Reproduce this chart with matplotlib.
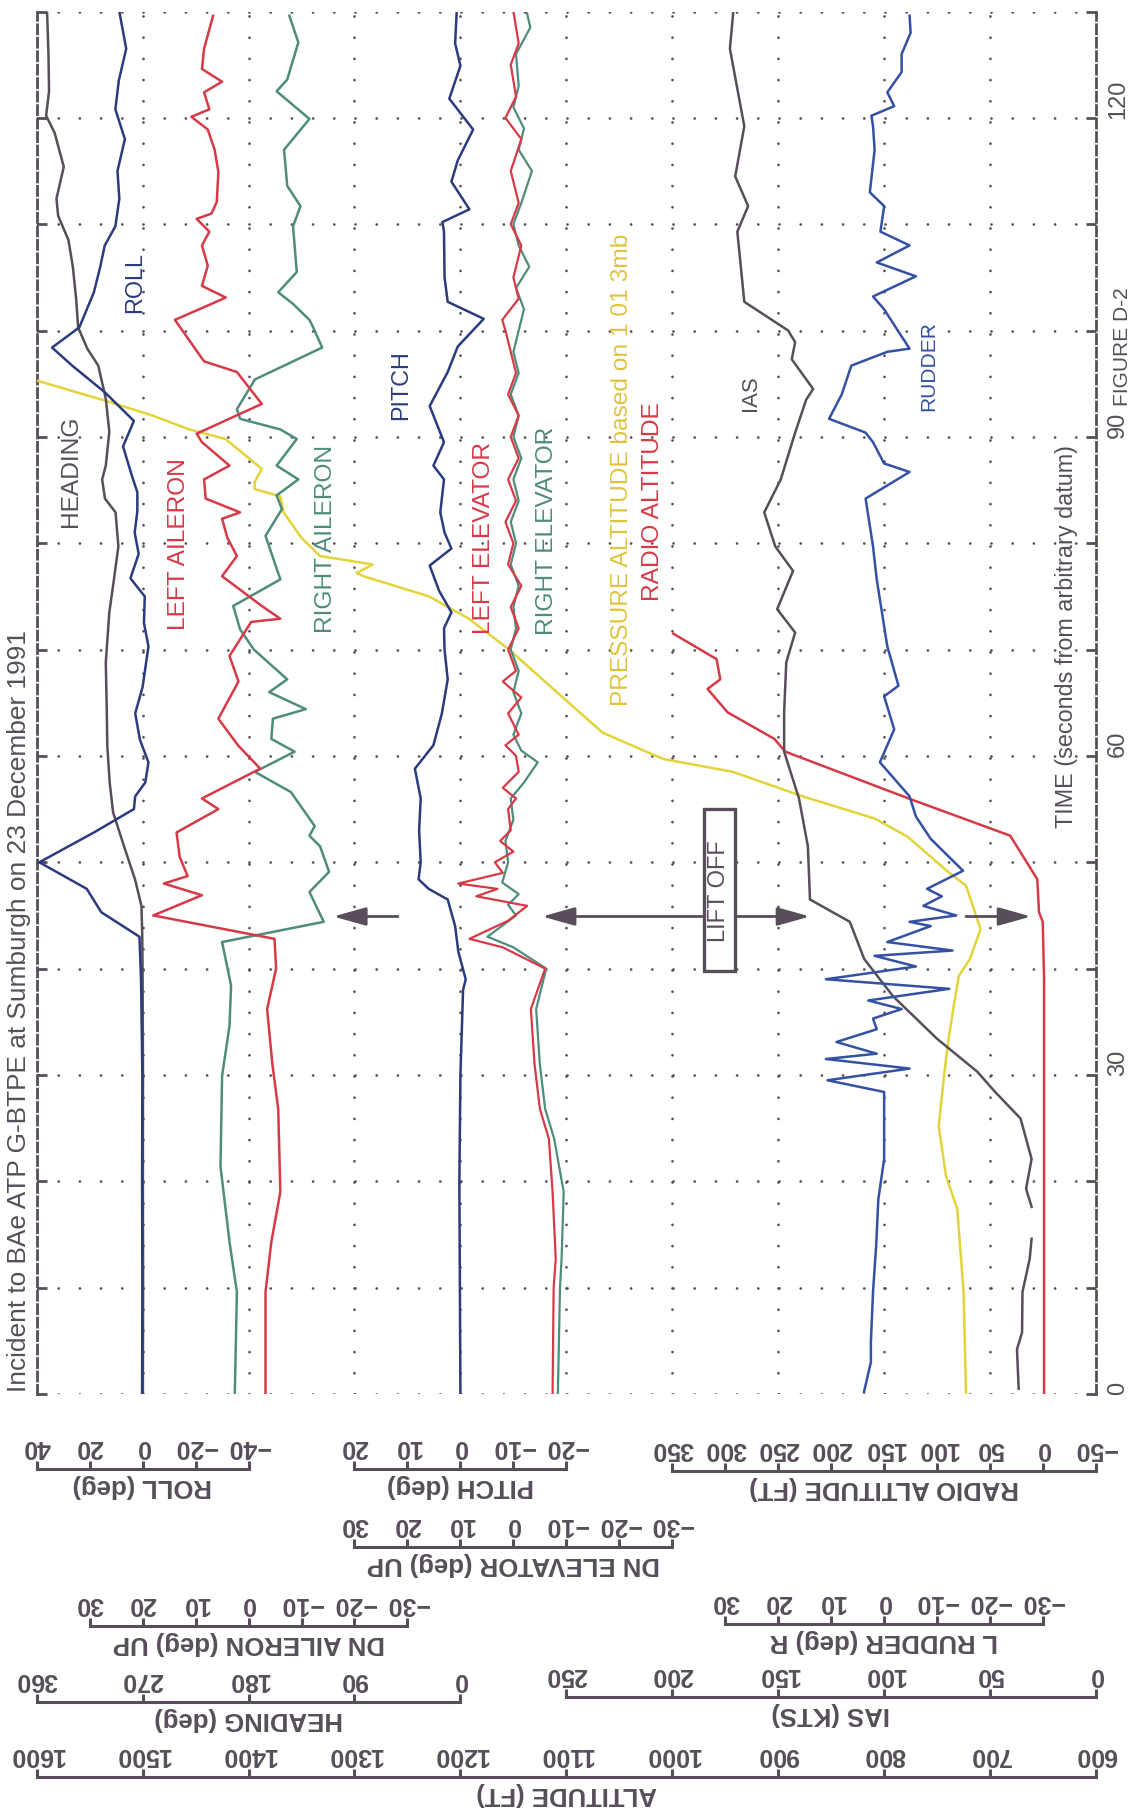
import numpy as np
import matplotlib
matplotlib.use("Agg")
import matplotlib.pyplot as plt
import matplotlib.transforms as mtransforms
from matplotlib import font_manager
from matplotlib.patches import Rectangle

plt.rcParams['lines.scale_dashes'] = False
plt.rcParams['font.family'] = ['Liberation Sans', 'DejaVu Sans']

# narrow face for the in-plot captions if it is there
names = {f.name for f in font_manager.fontManager.ttflist}
if 'Liberation Sans Narrow' in names:
    NARROW, NS = 'Liberation Sans Narrow', 1.0
else:
    NARROW, NS = 'Liberation Sans', 0.84

# ---------------- data (t = seconds from datum) ----------------
t_heading = [0, 10, 20, 30, 39, 43, 45.9, 48.4, 51.5, 54.7, 57.5, 60.9, 64.5, 68.8, 73.5,
             76.5, 79.7, 82.9, 84.2, 86, 87.3, 90.5, 93.6, 96.7, 98.3, 100.3, 103, 106,
             108.5, 110.8, 112.4, 115.4, 118.6, 120.2, 122.5, 126, 130]
heading = [269.8, 269.6, 269.8, 269.7, 270, 270.3, 271, 276.5, 285.8, 295.1, 298, 300,
           300.5, 301.3, 298.3, 294.5, 290.6, 293, 302, 304.4, 301.3, 298.3, 301.3, 307.7,
           317, 324.8, 326.5, 329.3, 333, 341.8, 343.2, 337, 344.8, 352, 349.5, 350, 351.2]

t_roll = [0, 10, 20, 30, 39, 43, 45.3, 47.5, 50, 52.8, 55, 56.2, 57.5, 59.4, 61.5, 64, 66.5,
          70.3, 72.5, 75, 76.7, 79, 81, 83, 84.8, 86.3, 89.1, 91.5, 94.2, 96.7, 98.4, 100.3,
          103.6, 106, 108, 109.8, 112.4, 115, 118, 120.8, 123.5, 126.5, 130]
roll = [0.2, 0.1, 0.2, 0.1, 0.6, 1.2, 15.6, 21.1, 39, 18.4, 3.3, 2.8, -1, -2.2, 1, 2.8, 0,
        -2.2, -0.5, -0.8, 4.6, 1.5, 3, 2, 2, 4, 7.4, 3.3, 14.3, 26.6, 34.2, 23.9, 18.4, 16,
        14.3, 10.3, 8.8, 9.5, 6.7, 10.3, 9, 6.2, 8.8]

t_lail = [0, 9.6, 14.3, 19, 26.8, 31, 36.2, 40, 42.8, 45, 46.9, 48, 48.7, 50.5, 52.8, 55, 56,
          58.8, 61, 63.5, 67, 69.4, 72.6, 72.9, 74.1, 76.9, 78.8, 80.5, 82.3, 82.9, 84.2, 86,
          87.3, 89.5, 90.3, 93.1, 96.1, 97.1, 101, 103.1, 104.2, 106.1, 108, 109.3, 110.5,
          111, 112.1, 114.9, 117, 118.9, 120.1, 120.8, 122.4, 123.4, 124.6, 126.5, 129.6]
left_aileron = [-3.2, -3.2, -4.3, -6, -5.6, -4.5, -3.5, -5.2, -4.9, 18, 8.8, 16, 11.5, 13,
                13.6, 5.7, 8.8, -2.2, 2, 5.7, 1.9, 3.6, -0.5, -6, -2.5, 5, 2.2, 4, 5, 1.6,
                8.1, 8.4, 3.6, 8.8, 9.8, -2.5, 2.2, 8.4, 13.9, 4.3, 8.8, 7.7, 8.8, 7.4, 9.8,
                7, 6, 5.7, 6.4, 7.7, 10.8, 7.4, 8.4, 5, 8.8, 8.4, 6.7]

t_rail = [0, 9.6, 14.3, 21.4, 29.9, 34.6, 38.4, 42.5, 44.4, 47.2, 49.1, 51.5, 52.5, 53.4,
          56.6, 58.5, 60.4, 61.6, 63.5, 64.4, 66, 67.2, 70, 71.9, 74.1, 76.6, 80.7, 83.2,
          84.5, 86, 87.3, 89.8, 90.7, 91.7, 92.6, 95.4, 98.4, 100.3, 101, 102.5, 103.6,
          105.5, 109.8, 111.7, 113.6, 117, 119.9, 122.5, 123.6, 127.1, 129.6]
right_aileron = [2.6, 2.2, 3.6, 5.3, 5, 3.6, 3.3, 5, -14.2, -11.5, -15.2, -13.5, -11.5,
                 -12.5, -8, -1.2, -8.7, -4.3, -4.6, -10.8, -3.9, -7.3, -1, 1.6, 2.9, -6,
                 -3.2, -6.3, -5.3, -9.4, -5.3, -9.1, -6, 1.6, 2.2, -1.2, -13.9, -12.2, -11.5,
                 -8.4, -5.6, -9.1, -8.4, -9.8, -7.3, -6.7, -11.5, -5.3, -7.3, -9.4, -7.7]

t_pitch = [0, 10, 20, 30, 38, 39, 41.6, 44, 46.5, 47.5, 48.4, 50, 53, 56, 58.8, 61, 64, 67.2,
           70, 72, 73.5, 75.5, 77.9, 79.5, 81, 82.9, 86, 87.3, 89.5, 92.9, 96.1, 98.5, 101.1,
           102.7, 105, 109.3, 110.2, 111.4, 114, 116, 118.9, 121.8, 124.9, 127, 130]
pitch = [0, 0.1, 0.2, 0, -0.5, -1, 0.4, 1, 2.4, 6, 7.9, 7.5, 7.8, 7.5, 8.6, 5.1, 3.5, 2.4, 3,
         3.1, 1.7, 4, 5.8, 1.7, 3, 3.8, 3.1, 5.1, 3.1, 5.8, 2.4, 0.5, -4.4, 2.4, 3, 3.1, 3.4,
         -1.7, 1.7, 0.5, -2.4, 2.1, 0, 1, 0.7]

t_lelev = [0, 10, 12.7, 19, 24, 26.8, 31, 36.2, 40, 42, 42.8, 44.5, 45.9, 46.8, 47.5, 48, 49,
           50, 51, 52, 53, 55, 56, 57, 58.5, 60, 61, 62, 64, 65.5, 67, 68, 70, 72, 74, 76, 78,
           80, 82, 84, 86, 88, 90, 92, 94, 96, 98, 100, 101, 103, 105, 108, 110, 112, 115,
           118, 120, 122, 125, 127, 130]
left_elevator = [-7.4, -7.6, -8, -7.4, -6.7, -5, -4, -3.3, -6, 2, 8.3, 1, -2.6, 7, 3, 10.4,
                 2, 3.5, 0, 2.5, 0.5, 1, -0.5, 2, -1, -0.5, 1.5, -1, 1, -1.5, 2, -0.5, 1, -1,
                 0.5, -1.5, 1, 0, 1.5, -0.5, 1, -1, 0.5, -1, 1, -0.5, 0.5, 1.5, 2.1, -1, 0,
                 -1.5, 0.5, -1, 0.5, -1.5, 1.5, -0.5, 0.5, -1, 0]

t_relev = [0, 10, 12.7, 19, 24, 26.8, 31, 36.2, 40, 42, 43, 45, 46, 47, 48.1, 50, 52, 54, 56,
           57.5, 59.4, 60.5, 62, 64, 66, 68, 70, 72, 74, 76, 78, 80, 82, 84, 86, 88, 90, 92,
           94, 96, 98, 100, 102, 104, 106, 108, 110, 112, 115, 117, 119, 121, 123, 126,
           128.5, 130]
right_elevator = [-8.4, -8.8, -9.1, -9.5, -7.7, -6, -5, -4.3, -6.2, 0, 4.9, -0.5, 1, -1,
                  2.1, 1, 1.5, 0, 0.5, -2, -4.6, -1.5, 0, -1.5, 0, -1, 0.5, -0.5, 0, -1, 0.5,
                  -0.5, 0.5, -1, 0, -1.5, 0, -1, 0.5, -1, 0, -1, -2, -0.5, -3, -1, 0, -1.5,
                  -3.5, -1, -2, 0, -1, -0.5, -3.2, -2.5]

t_palt = [0, 9.6, 17.4, 20.5, 25.2, 29.9, 33.1, 36.2, 39.3, 40.9, 43.7, 47.8, 49.1, 52.4,
          54.1, 56.2, 58.5, 59.7, 60.4, 62.2, 65.2, 70, 72.9, 75, 76.9, 77.2, 78, 78.8, 80.5,
          82.9, 84.4, 85.1, 85.8, 87, 89.8, 90.7, 92, 93.3, 95.3]
pressure_alt = [722.7, 725, 731, 741.6, 748.5, 743.5, 739.6, 734.7, 729.6, 719, 709, 722.7,
                739.6, 777.8, 808.6, 877, 942.7, 1007.8, 1024.7, 1065.9, 1100, 1154, 1192,
                1229.7, 1291.4, 1298, 1282.8, 1332.6, 1350, 1366.9, 1370, 1394.4, 1394,
                1387.5, 1421.8, 1456, 1490.5, 1531.7, 1600]

t_ralt = [0, 20, 39, 44.4, 45.3, 48.4, 52.5, 56, 60.4, 61.6, 64.1, 66.3, 67.2, 69.1, 71.5]
radio_alt = [-1, -1, -1, 0.3, 3.8, 5.4, 31, 126.9, 243.3, 253.6, 297.8, 316.7, 304.7,
             308.2, 349.1]

t_ias = [0.5, 4.2, 5.8, 9.6, 12.7, 14.6, 16, 17.6, 19.3, 22.1, 25.9, 28.4, 30.3, 33.4, 37.4,
         40.9, 44.4, 46.5, 51.5, 56, 60.4, 64.1, 68.8, 71.6, 73.8, 77.4, 79.7, 82.9, 86,
         90.4, 93.5, 94.5, 97.3, 98.9, 100, 102.7, 106.1, 109.3, 111.7, 114.5, 119.2, 126.5,
         130]
ias = [36.5, 37.3, 34.9, 34.7, 31.3, 30.4, np.nan, 30.4, 33, 30.4, 35.6, 47.6, 56, 75, 95.8,
       109.4, 116.2, 135, 136, 140.2, 147.2, 147.2, 146.2, 142, 150.5, 143, 151.4, 156.6,
       148.8, 142, 136.8, 133.5, 143.6, 142, 145.3, 166, 167.7, 169.3, 164.2, 170.3, 166,
       172.8, 171.2]

t_rud = [0.2, 3, 4.9, 9.6, 14, 18.3, 22.1, 28.4, 29.5, 30.6, 31.5, 32, 33.1, 34.3, 35.3,
         36.2, 37, 38.1, 39, 40.2, 41.2, 41.7, 42.5, 44, 44.4, 45, 45.9, 46.8, 47.5, 49.2,
         52.2, 54.3, 56.2, 59.4, 62.5, 65.6, 66.6, 70.3, 76.6, 79.7, 84.2, 86.7, 87.5, 89.5,
         90.4, 91.7, 94, 96.7, 98, 98.3, 99.9, 102, 103.2, 105.1, 106.4, 108, 109.3, 111.7,
         113, 117, 119.2, 120.2, 121.1, 122.4, 124.3, 126, 128, 129.6]
rudder = [3.8, 2.5, 2.5, 2.1, 1.5, 1.1, 0, 0, 10.7, -4.8, 11, 1.4, 9, 1.4, 2.1, -3.3, 3,
          -12.3, 11, -6, 1.8, -12.9, -0.6, -8.8, -4.8, -13.6, -7.4, -10.9, -8.1, -14.9,
          -8.8, -6, -4.8, 0.8, -1.9, 0, -2.7, -0.6, 1.4, 2.1, 3.5, -4.8, 0, 2.1, 3.5, 10.4, 8,
          6.2, -0.6, -4.8, -2.7, 0, 2.1, -6, 1.4, -4.8, 0.7, 0, 2.7, 1.8, 2.1, 2.4, -1.9,
          -0.6, -3.3, -3.3, -5, -4.8]

LIFTOFF_T = 44.9

# scale ticks of the rulers under the plot
ROLL_TICKS = [40, 20, 0, -20, -40]
PITCH_TICKS = [20, 10, 0, -10, -20]
RALT_TICKS = [350, 300, 250, 200, 150, 100, 50, 0, -50]
ELEV_TICKS = [30, 20, 10, 0, -10, -20, -30]
AIL_TICKS = [30, 20, 10, 0, -10, -20, -30]
RUD_TICKS = [30, 20, 10, 0, -10, -20, -30]
HDG_TICKS = [360, 270, 180, 90, 0]
IAS_TICKS = [250, 200, 150, 100, 50, 0]
ALT_TICKS = [1600, 1500, 1400, 1300, 1200, 1100, 1000, 900, 800, 700, 600]
TIME_TICKS = [0, 30, 60, 90, 120]

# each trace's scale: value at the left frame edge, change per grid column
SCALES = {
    'palt': (1600, -100), 'roll': (40, -40), 'heading': (360, -90), 'ail': (40, -20),
    'pitch': (80, -20), 'elev': (90, -20), 'ralt': (950, -100), 'ias': (500, -50),
    'rudder': (160, -20),
}

GREY = '#574e5a'
NAVY = '#2c3b7e'
BLUE = '#3451a3'
RED = '#d63a47'
TEAL = '#4f8c7d'
YELLOW = '#e2d43a'
YTEXT = '#e0c43e'

W, H = 1136, 1815
X0, X1 = 36.7, 1096.0
Y_T0, Y_TOP = 1395.0, 12.5
CELL = (X1 - X0) / 10

fig = plt.figure(figsize=(W / 100, H / 100), dpi=100, facecolor='white')
ax = fig.add_axes([X0 / W, 1 - Y_T0 / H, (X1 - X0) / W, (Y_T0 - Y_TOP) / H])
ax.set_xlim(1600, 600)
ax.set_ylim(0, 130)

# dotted grid
dot = (0, (0.01, CELL / 5 * 0.72))
for t in range(0, 131, 10):
    ax.axhline(t, color=GREY, lw=2.0, ls=dot, dash_capstyle='round', zorder=1)
for a in range(1500, 600, -100):
    ax.axvline(a, color=GREY, lw=2.0, ls=dot, dash_capstyle='round', zorder=1)

for s in ('top', 'bottom'):
    ax.spines[s].set_visible(False)
for s in ('left', 'right'):
    ax.spines[s].set_linestyle((0, (6.5, 3.2)))
    ax.spines[s].set_linewidth(2.0)
    ax.spines[s].set_color(GREY)


def channel(name):
    left, step = SCALES[name]
    a = ax.twiny()
    a.set_xlim(left, left + 10 * step)
    a.axis('off')
    return a


LW = 1.8
ax.plot(pressure_alt, t_palt, color=YELLOW, lw=LW, zorder=3)
channel('ralt').plot(radio_alt, t_ralt, color=RED, lw=LW)
channel('ias').plot(ias, t_ias, color=GREY, lw=LW)
channel('rudder').plot(rudder, t_rud, color=BLUE, lw=LW)
channel('elev').plot(right_elevator, t_relev, color=TEAL, lw=1.6)
channel('elev').plot(left_elevator, t_lelev, color=RED, lw=1.6)
channel('pitch').plot(pitch, t_pitch, color=NAVY, lw=LW)
channel('ail').plot(right_aileron, t_rail, color=TEAL, lw=LW)
channel('ail').plot(left_aileron, t_lail, color=RED, lw=LW)
channel('heading').plot(heading, t_heading, color=GREY, lw=LW)
channel('roll').plot(roll, t_roll, color=NAVY, lw=LW)

ax.set_xticks([])
ax.set_yticks(np.arange(0, 131, 10))
ax.tick_params(axis='y', direction='in', length=7, width=2.0, color=GREY,
               left=True, right=True, labelleft=False, labelright=False)
ax.tick_params(axis='x', bottom=False, top=False)

tr = mtransforms.blended_transform_factory(ax.transAxes, ax.transData)
for t in TIME_TICKS:
    ax.text(1 + (1118 - X1) / (X1 - X0), t, str(t), transform=tr, rotation=90,
            rotation_mode='anchor', ha='left', va='center', fontsize=17, color=GREY)

# lift-off marks
arrow = dict(color=GREY, lw=2.0, shrinkA=0, shrinkB=0, mutation_scale=20)
ax.annotate('', xy=(1122.9, LIFTOFF_T), xytext=(870, LIFTOFF_T),
            arrowprops=dict(arrowstyle='<|-|>,head_length=1.0,head_width=0.28', **arrow), zorder=4)
ax.annotate('', xy=(1320, LIFTOFF_T), xytext=(1259, LIFTOFF_T),
            arrowprops=dict(arrowstyle='-|>,head_length=1.0,head_width=0.28', **arrow), zorder=4)
ax.annotate('', xy=(661.3, LIFTOFF_T), xytext=(722.7, LIFTOFF_T),
            arrowprops=dict(arrowstyle='-|>,head_length=1.0,head_width=0.28', **arrow), zorder=4)
ax.add_patch(Rectangle((940.8, 39.8), 29.7, 15.2, fc='white', ec=GREY, lw=2.4, zorder=5))
ax.text(955.6, 47.4, 'LIFT OFF', rotation=90, ha='center', va='center', fontsize=17,
        color=GREY, zorder=6)


def fmt(v):
    return f"{v:g}".replace('-', '\u2212')


def ruler(name, ticks, title, y_px):
    left, step = SCALES[name]
    c0 = (ticks[0] - left) / step
    c1 = (ticks[-1] - left) / step
    r = fig.add_axes([(X0 + c0 * CELL) / W, 1 - y_px / H, (c1 - c0) * CELL / W, 1e-4])
    r.set_xlim(ticks[0], ticks[-1])
    r.patch.set_visible(False)
    for s in ('left', 'right', 'bottom'):
        r.spines[s].set_visible(False)
    r.spines['top'].set_color(GREY)
    r.spines['top'].set_linewidth(2.2)
    r.set_yticks([])
    r.xaxis.tick_top()
    r.set_xticks(ticks, [fmt(v) for v in ticks], fontweight='bold')
    r.tick_params(axis='x', direction='out', length=6, width=2.2, color=GREY, pad=2,
                  labelsize=18, labelcolor=GREY, labelrotation=180)
    r.xaxis.set_label_position('bottom')
    r.set_xlabel(title, rotation=180, fontsize=18.5, fontweight='bold', color=GREY,
                 labelpad=3)


ruler('roll', ROLL_TICKS, 'ROLL (deg)', 1470)
ruler('pitch', PITCH_TICKS, 'PITCH (deg)', 1470)
ruler('ralt', RALT_TICKS, 'RADIO ALTITUDE (FT)', 1472)
ruler('elev', ELEV_TICKS, 'DN ELEVATOR (deg) UP', 1548)
ruler('ail', AIL_TICKS, 'DN AILERON (deg) UP', 1627)
ruler('rudder', RUD_TICKS, 'L RUDDER (deg) R', 1625)
ruler('heading', HDG_TICKS, 'HEADING (deg)', 1703)
ruler('ias', IAS_TICKS, 'IAS (KTS)', 1698)
ruler('palt', ALT_TICKS, 'ALTITUDE (FT)', 1778)


def label(x, y, s, color, size):
    fig.text(x / W, 1 - y / H, s, rotation=90, ha='center', va='center', color=color,
             fontsize=size * NS, family=[NARROW, 'DejaVu Sans'])


label(71, 471, 'HEADING', GREY, 21)
label(135, 283, 'ROLL', NAVY, 20)
label(179, 544, 'LEFT AILERON', RED, 21)
label(326, 539, 'RIGHT AILERON', TEAL, 21)
label(401, 385, 'PITCH', NAVY, 20)
label(484, 538, 'LEFT ELEVATOR', RED, 21)
label(547, 531, 'RIGHT ELEVATOR', TEAL, 21)
label(622, 470, 'PRESSURE ALTITUDE based on 1 01 3mb', YTEXT, 21)
label(653, 502, 'RADIO ALTITUDE', RED, 21)
label(750, 393, 'IAS', GREY, 19)
label(929, 366, 'RUDDER', BLUE, 18)
label(1066, 637, 'TIME (seconds from arbitrary datum)', GREY, 20)
label(1123, 347, 'FIGURE D-2', GREY, 18)

fig.text(19 / W, 1 - 1392 / H, 'Incident to BAe ATP G-BTPE at Sumburgh on 23 December 1991',
         rotation=90, rotation_mode='anchor', ha='left', va='center', color=GREY,
         fontsize=22.5 * NS, family=[NARROW, 'DejaVu Sans'])

fig.savefig('out.png', dpi=100)
